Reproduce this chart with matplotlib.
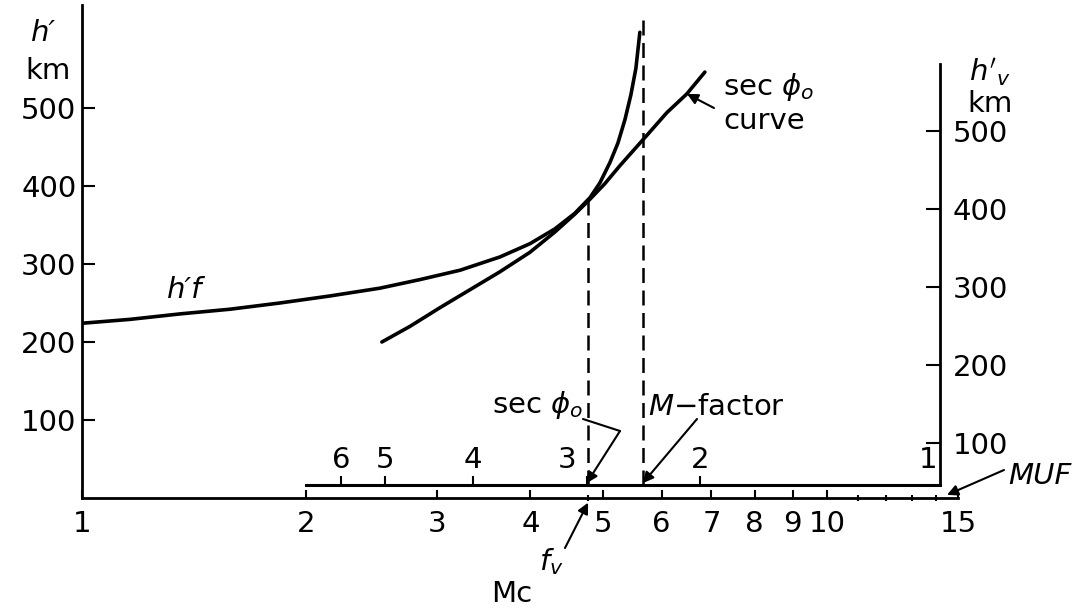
import matplotlib
matplotlib.use('Agg')
from matplotlib import pyplot as plt
from matplotlib.ticker import FixedLocator, NullFormatter

matplotlib.rcParams.update({
    'font.family': 'DejaVu Sans',
    'font.size': 21,
    'mathtext.fontset': 'dejavusans',
})

# h'f curve (ionogram): frequency (MHz) vs virtual height h' (km)
hf_freq = [1.0, 1.16, 1.354, 1.58, 1.844, 2.152, 2.512, 2.843, 3.218, 3.64, 3.994,
           4.314, 4.589, 4.808, 4.958, 5.114, 5.242, 5.357, 5.457, 5.542, 5.61]
hf_height = [224, 229, 236, 242, 250, 259, 269, 280, 292, 309, 326,
             345, 365, 385, 404, 430, 455, 485, 517, 551, 597]

# sec phi0 transmission curve
sec_freq = [2.527, 2.756, 3.024, 3.318, 3.64, 3.994, 4.314, 4.589, 4.808, 5.035,
            5.274, 5.734, 6.098, 6.486, 6.859]
sec_height = [200, 220, 244, 267, 290, 315, 341, 364, 383, 403,
              426, 465, 494, 518, 546]

# frequency axis
freq_ticks = [1, 2, 3, 4, 5, 6, 7, 8, 9, 10, 15]
freq_minor = [11, 12, 13, 14]
fv = 4.78        # vertical incidence frequency (tangent point)
m_freq = 5.66    # M-factor / MUF line
muf = 14.2       # right hand scale sits on the MUF

# sec phi0 / Mc scale drawn above the frequency axis
mc_values = [6, 5, 4, 3, 2, 1]
mc_freq = [2.23, 2.55, 3.35, 4.76, 6.75, 14.2]

height_ticks = [100, 200, 300, 400, 500]
hv_offset = 29   # h'v scale is shifted against h'


def fp(x, y):
    # pixel position (from top left) -> figure fraction
    return (x / 1090, 1 - y / 611)


fig = plt.figure(figsize=(10.9, 6.11), dpi=100)
ax = fig.add_axes([82 / 1090, 1 - 498 / 611, 876 / 1090, 493 / 611])
ax.set_xscale('log')
ax.set_xlim(1, 15)
ax.set_ylim(0, 632)

for s in ['top', 'right']:
    ax.spines[s].set_visible(False)
for s in ['left', 'bottom']:
    ax.spines[s].set_linewidth(2)

ax.set_xticks(freq_ticks)
ax.set_xticklabels([str(t) for t in freq_ticks])
ax.xaxis.set_minor_locator(FixedLocator(freq_minor + [fv]))
ax.xaxis.set_minor_formatter(NullFormatter())
ax.tick_params(axis='x', which='major', direction='in', length=6, width=1.5, pad=9)
ax.tick_params(axis='x', which='minor', direction='inout', length=5, width=1.5)
ax.set_yticks(height_ticks)
ax.tick_params(axis='y', direction='in', length=9, width=1.5, pad=4)

# right hand h'v scale
ax2 = ax.twinx()
ax2.set_ylim(0 + hv_offset, 632 + hv_offset)
for s in ['top', 'left', 'bottom']:
    ax2.spines[s].set_visible(False)
ax2.spines['right'].set_position(('data', muf))
ax2.spines['right'].set_bounds(17 + hv_offset, 586)
ax2.spines['right'].set_linewidth(2)
ax2.set_yticks(height_ticks)
ax2.tick_params(axis='y', direction='in', length=10, width=1.5, pad=9)

# curves
ax.plot(hf_freq, hf_height, color='black', lw=2.6, solid_capstyle='round')
ax.plot(sec_freq, sec_height, color='black', lw=2.6, solid_capstyle='round')

# dashed construction lines
ax.plot([fv, fv], [17, 385], color='black', lw=1.8, ls=(0, (6, 3)))
ax.plot([m_freq, m_freq], [17, 615], color='black', lw=1.8, ls=(0, (6, 3)))

# Mc scale line with its ticks and numbers
ax.plot([2, muf], [17, 17], color='black', lw=2.2, clip_on=False)
ax.vlines(mc_freq[:-1], 17, 28, color='black', lw=1.5)
label_dx = [0, 0, 0, -14, 0, -9]
for v, f, dx in zip(mc_values, mc_freq, label_dx):
    ax.annotate(str(v), (f, 17), xytext=(dx, 18), textcoords='offset points',
                ha='center', va='center', annotation_clip=False)

# texts
fig.text(*fp(44, 33), "h′", fontstyle='italic', ha='center', va='center')
fig.text(*fp(48, 71), "km", ha='center', va='center')
fig.text(*fp(990, 72), r"$h'_v$", ha='center', va='center')
fig.text(*fp(990, 104), "km", ha='center', va='center')
fig.text(*fp(185, 290), "h′f", fontstyle='italic', ha='center', va='center')
fig.text(*fp(723, 87), r"sec $\phi_o$", ha='left', va='center')
fig.text(*fp(723, 121), "curve", ha='left', va='center')
fig.text(*fp(492, 405), r"sec $\phi_o$", ha='left', va='center')
fig.text(*fp(648, 407), r"$M$$-$factor", ha='left', va='center')
fig.text(*fp(551, 562), r"$f_v$", ha='center', va='center')
fig.text(*fp(512, 594), "Mc", ha='center', va='center')
fig.text(*fp(1008, 476), "MUF", fontstyle='italic', ha='left', va='center')

arrow = dict(arrowstyle='-|>', color='black', lw=1.5, mutation_scale=16, shrinkA=0, shrinkB=0)
line = dict(arrowstyle='-', color='black', lw=1.5, shrinkA=0, shrinkB=0)

ax.annotate('', xy=(6.49, 518), xytext=fp(714, 108), textcoords='figure fraction',
            arrowprops=arrow)
ax.annotate('', xy=fp(620, 431), xycoords='figure fraction',
            xytext=fp(583, 419), textcoords='figure fraction', arrowprops=line)
ax.annotate('', xy=(mc_freq[3], 19), xytext=fp(620, 431), textcoords='figure fraction',
            arrowprops=arrow, annotation_clip=False)
ax.annotate('', xy=(m_freq, 19), xytext=fp(697, 419), textcoords='figure fraction',
            arrowprops=arrow, annotation_clip=False)
ax.annotate('', xy=(fv, -6), xytext=fp(565, 548), textcoords='figure fraction',
            arrowprops=arrow, annotation_clip=False)
ax.annotate('', xy=(14.5, 4), xytext=fp(1004, 470), textcoords='figure fraction',
            arrowprops=arrow, annotation_clip=False)

plt.savefig('out.png', dpi=100)
plt.close()
